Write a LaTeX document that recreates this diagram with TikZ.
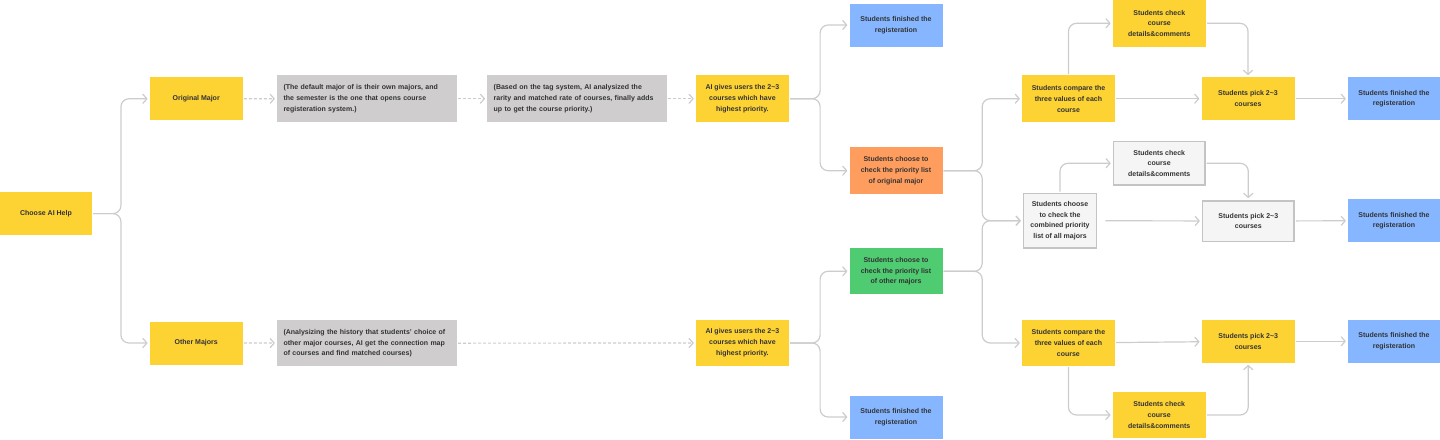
\documentclass[tikz,border=0pt]{standalone}
\usepackage{fontspec}
\setmainfont{Liberation Sans}
\usetikzlibrary{arrows.meta}
\definecolor{noteYellow}{HTML}{FDD233}
\definecolor{noteBlue}{HTML}{85B6FF}
\definecolor{noteOrange}{HTML}{FF9D5F}
\definecolor{noteGreen}{HTML}{4FCB71}
\definecolor{noteGray}{HTML}{CFCDCE}
\definecolor{paleGray}{HTML}{F5F5F5}
\definecolor{edgeGray}{HTML}{C4C4C4}
\definecolor{lineGray}{HTML}{CCCCCC}
\definecolor{inkGray}{HTML}{333333}

\begin{document}
\begin{tikzpicture}[x=1pt,y=-1pt,
    card/.style={rectangle,inner sep=0pt,align=center,text=inkGray,
        font=\fontsize{7}{10.8}\selectfont\bfseries,minimum width=93pt,minimum height=43pt},
    tall/.style={minimum height=47pt},
    yellowcard/.style={card,fill=noteYellow},
    bluecard/.style={card,fill=noteBlue},
    orangecard/.style={card,fill=noteOrange,tall},
    greencard/.style={card,fill=noteGreen,tall},
    palecard/.style={card,fill=paleGray,draw=edgeGray,line width=1.5pt,minimum width=91.5pt},
    notecard/.style={card,fill=noteGray,tall,minimum width=180pt,text width=167pt,align=left},
    conn/.style={draw=lineGray,line width=1.2pt,rounded corners=8pt,
        -{Straight Barb[length=4pt,width=9pt,round]},shorten >=2pt,shorten <=1pt},
    dashconn/.style={conn,rounded corners=0pt,dash pattern=on 3pt off 2pt}]
    \useasboundingbox (0,0) rectangle (1440,439);

    \node[yellowcard,minimum width=92pt] (choose) at (46,213.6) {Choose AI Help};
    \node[yellowcard] (orig) at (196.2,98.8) {Original Major};
    \node[yellowcard] (other) at (196.2,343) {Other Majors};
    \node[notecard] (defaultnote) at (367,98.7) {(The default major of is their own majors, and\\the semester is the one that opens course\\registeration system.)};
    \node[notecard,minimum height=46pt] (historynote) at (367,343.2) {(Analysizing the history that students' choice of\\other major courses, AI get the connection map\\of courses and find matched courses)};
    \node[notecard] (tagnote) at (577.2,98.7) {(Based on the tag system, AI analysized the\\rarity and matched rate of courses, finally adds\\up to get the course priority.)};
    \node[yellowcard,tall] (aitop) at (742.4,98.7) {AI gives users the 2\textasciitilde3\\courses which have\\highest priority.};
    \node[yellowcard,minimum height=46pt] (aibot) at (742.4,343) {AI gives users the 2\textasciitilde3\\courses which have\\highest priority.};

    \node[bluecard] (fintop) at (896,25) {Students finished the\\registeration};
    \node[orangecard] (origlist) at (896,170.7) {Students choose to\\check the priority list\\of original major};
    \node[greencard,minimum height=46pt] (otherlist) at (896,271.3) {Students choose to\\check the priority list\\of other majors};
    \node[bluecard] (finbot) at (896,417) {Students finished the\\registeration};

    \node[yellowcard,tall] (comptop) at (1068.5,98.7) {Students compare the\\three values of each\\course};
    \node[yellowcard,tall] (checktop) at (1159.3,23.3) {Students check\\course\\details\&comments};
    \node[yellowcard] (picktop) at (1248,98.7) {Students pick 2\textasciitilde3\\courses};
    \node[bluecard,minimum width=92pt] (finone) at (1394,98.7) {Students finished the\\registeration};

    \node[palecard,minimum width=73pt,minimum height=54.5pt] (alllist) at (1060,220.7) {Students choose\\to check the\\combined priority\\list of all majors};
    \node[palecard,minimum height=43.8pt] (checkmid) at (1159.2,163.3) {Students check\\course\\details\&comments};
    \node[palecard,minimum height=40.5pt] (pickmid) at (1248.3,221) {Students pick 2\textasciitilde3\\courses};
    \node[bluecard,minimum width=92pt] (fintwo) at (1394,220.7) {Students finished the\\registeration};

    \node[yellowcard,minimum height=46pt] (compbot) at (1068.4,343) {Students compare the\\three values of each\\course};
    \node[yellowcard] (pickbot) at (1248.2,341.3) {Students pick 2\textasciitilde3\\courses};
    \node[yellowcard,minimum height=46.6pt] (checkbot) at (1159.2,415) {Students check\\course\\details\&comments};
    \node[bluecard,minimum width=92pt] (finthree) at (1394,341.3) {Students finished the\\registeration};

    \draw[conn] (choose.east) -- ++(28.7,0) |- (orig.west);
    \draw[conn] (choose.east) -- ++(28.7,0) |- (other.west);
    \draw[dashconn] (orig) -- (defaultnote);
    \draw[dashconn] (defaultnote) -- (tagnote);
    \draw[dashconn] (tagnote) -- (aitop);
    \draw[dashconn] (other) -- (historynote);
    \draw[dashconn] (historynote) -- (aibot);

    \draw[conn] (aitop.east) -- ++(31,0) |- (fintop.west);
    \draw[conn] (aitop.east) -- ++(31,0) |- (origlist.west);
    \draw[conn] (aibot.east) -- ++(31,0) |- (otherlist.west);
    \draw[conn] (aibot.east) -- ++(31,0) |- (finbot.west);

    \draw[conn] (origlist.east) -- ++(39.5,0) |- (comptop.west);
    \draw[conn] (origlist.east) -- ++(39.5,0) |- (alllist.west);
    \draw[conn] (otherlist.east) -- ++(39.5,0) |- (alllist.west);
    \draw[conn] (otherlist.east) -- ++(39.5,0) |- (compbot.west);

    \draw[conn] (comptop.north) |- (checktop.west);
    \draw[conn] (checktop.east) -| (picktop.north);
    \draw[conn] (comptop) -- (picktop);
    \draw[conn] (picktop) -- (finone);

    \draw[conn] (alllist.north) |- (checkmid.west);
    \draw[conn] (checkmid.east) -| (pickmid.north);
    \draw[conn,shorten <=8pt] (alllist) -- (pickmid);
    \draw[conn] (pickmid) -- (fintwo);

    \draw[conn] (compbot.south) |- (checkbot.west);
    \draw[conn] (checkbot.east) -| (pickbot.south);
    \draw[conn] (compbot) -- (pickbot);
    \draw[conn] (pickbot) -- (finthree);
\end{tikzpicture}
\end{document}
